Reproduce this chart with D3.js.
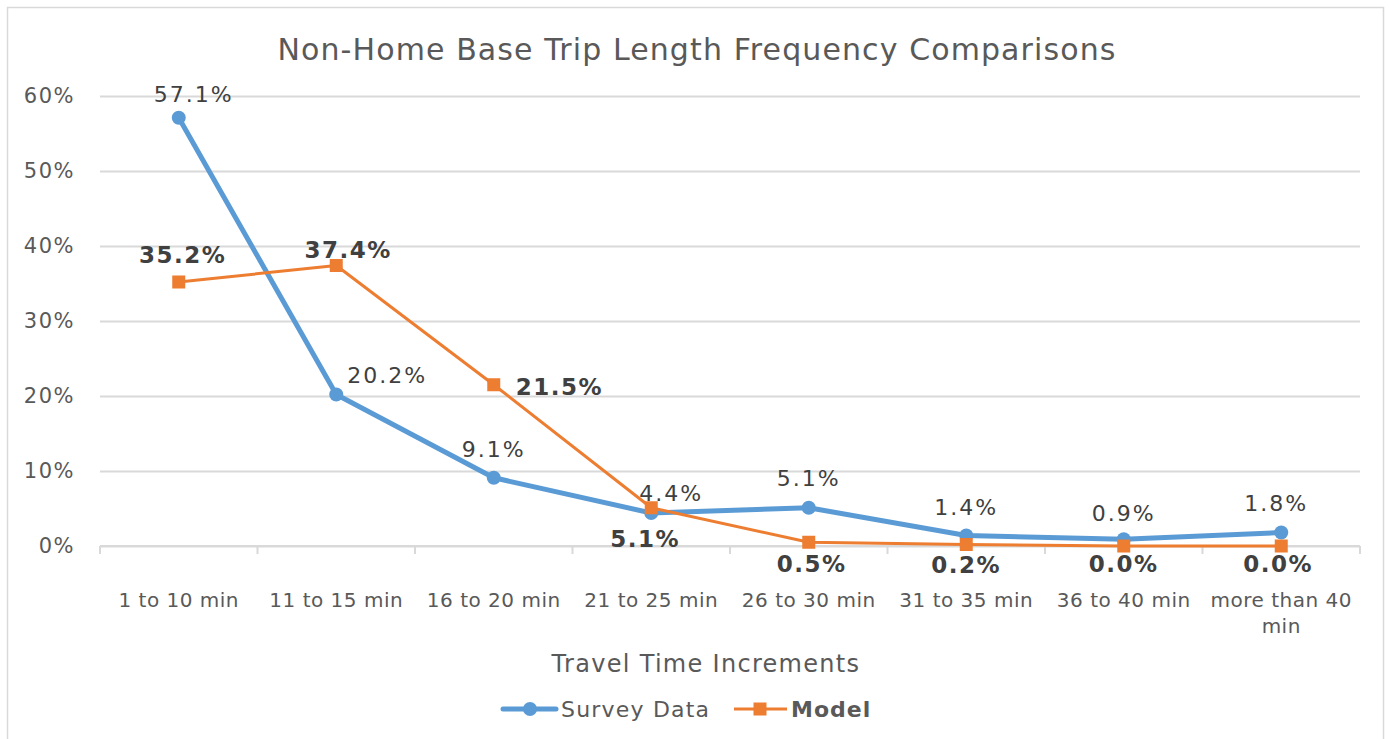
<!DOCTYPE html>
<html>
<head>
<meta charset="utf-8">
<script src="https://cdn.jsdelivr.net/npm/d3@7"></script>
<style>
  html, body { margin: 0; padding: 0; background: #ffffff; }
  svg { display: block; font-family: "DejaVu Sans", Verdana, sans-serif; }
</style>
</head>
<body>
<svg id="chart" width="1389" height="739"></svg>
<script>
// Travel time bins and trip shares (%)
const categories = ["1 to 10 min", "11 to 15 min", "16 to 20 min", "21 to 25 min",
                    "26 to 30 min", "31 to 35 min", "36 to 40 min", "more than 40 min"];
const surveyData = [57.1, 20.2, 9.1, 4.4, 5.1, 1.4, 0.9, 1.8];
const modelData  = [35.2, 37.4, 21.5, 5.1, 0.5, 0.2, 0.0, 0.0];
const yTicks = [0, 10, 20, 30, 40, 50, 60];

// Data-label placement per point: [dx, dy of baseline, anchor]
const surveyLabelPlace = [[15, -16, "middle"], [51, -12, "middle"], [0, -21, "middle"], [20, -12, "middle"],
                          [0, -22, "middle"], [0, -21, "middle"], [0, -18, "middle"], [-5, -22, "middle"]];
const modelLabelPlace  = [[4, -19, "middle"], [12, -8, "middle"], [22, 10, "start"], [-6, 39, "middle"],
                          [3, 30, "middle"], [0, 28, "middle"], [0, 26, "middle"], [-3, 26, "middle"]];

const svg = d3.select("#chart");
const plot = { left: 100, right: 1360, top: 96, bottom: 546 };

const x = d3.scaleBand().domain(categories).range([plot.left, plot.right]).padding(0);
const y = d3.scaleLinear().domain([0, 60]).range([plot.bottom, plot.top]);
const cx = c => x(c) + x.bandwidth() / 2;

const gridColor = "#d9d9d9";
const labelColor = "#404040";
const axisColor = "#595959";
const blue = "#5b9bd5";
const orange = "#ed7d31";

// Chart frame
svg.append("rect")
  .attr("x", 7.5).attr("y", 7.5).attr("width", 1376).attr("height", 760)
  .attr("fill", "#ffffff").attr("stroke", gridColor).attr("stroke-width", 1.5);

// Title
svg.append("text")
  .attr("x", 697).attr("y", 60)
  .attr("text-anchor", "middle")
  .attr("fill", axisColor)
  .style("font-size", "30px").style("letter-spacing", "1.1px")
  .text("Non-Home Base Trip Length Frequency Comparisons");

// Horizontal gridlines and y labels
const yAxis = d3.axisLeft(y).tickValues(yTicks).tickFormat(d => d + "%")
  .tickSize(-(plot.right - plot.left)).tickPadding(25);
const gy = svg.append("g").attr("transform", `translate(${plot.left},0)`).call(yAxis);
gy.select(".domain").remove();
gy.selectAll(".tick line").attr("stroke", gridColor).attr("stroke-width", 2);
gy.selectAll(".tick text")
  .attr("fill", axisColor)
  .style("font-size", "21px").style("letter-spacing", "1.5px")
  .style("font-family", "'DejaVu Sans', Verdana, sans-serif");

// Category axis: baseline, boundary ticks, labels
const gx = svg.append("g").attr("transform", `translate(0,${plot.bottom})`);
gx.append("line")
  .attr("x1", plot.left).attr("x2", plot.right)
  .attr("stroke", gridColor).attr("stroke-width", 2);
const bounds = categories.map(c => x(c)).concat([plot.right]);
gx.selectAll("line.bound").data(bounds).join("line")
  .attr("class", "bound")
  .attr("x1", d => d).attr("x2", d => d)
  .attr("y1", 0).attr("y2", 8)
  .attr("stroke", gridColor).attr("stroke-width", 2);

const catLabels = gx.selectAll("text.cat").data(categories).join("text")
  .attr("class", "cat")
  .attr("text-anchor", "middle")
  .attr("fill", axisColor)
  .style("font-size", "20px").style("letter-spacing", "0.5px");
catLabels.each(function(c) {
  const t = d3.select(this);
  const lines = c === "more than 40 min" ? ["more than 40", "min"] : [c];
  lines.forEach((ln, i) => {
    t.append("tspan").attr("x", cx(c)).attr("y", 61 + i * 26).text(ln);
  });
});

// Axis title
svg.append("text")
  .attr("x", 706).attr("y", 672)
  .attr("text-anchor", "middle")
  .attr("fill", axisColor)
  .style("font-size", "24px").style("letter-spacing", "1.3px")
  .text("Travel Time Increments");

// Series lines
const line = d3.line().x((d, i) => cx(categories[i])).y(d => y(d));

svg.append("path").datum(surveyData)
  .attr("d", line).attr("fill", "none")
  .attr("stroke", blue).attr("stroke-width", 5)
  .attr("stroke-linejoin", "round").attr("stroke-linecap", "round");

svg.append("path").datum(modelData)
  .attr("d", line).attr("fill", "none")
  .attr("stroke", orange).attr("stroke-width", 3)
  .attr("stroke-linejoin", "round");

// Markers
svg.selectAll("circle.survey").data(surveyData).join("circle")
  .attr("class", "survey")
  .attr("cx", (d, i) => cx(categories[i])).attr("cy", d => y(d))
  .attr("r", 7).attr("fill", blue);

const sq = 13;
svg.selectAll("rect.model").data(modelData).join("rect")
  .attr("class", "model")
  .attr("x", (d, i) => cx(categories[i]) - sq / 2).attr("y", d => y(d) - sq / 2)
  .attr("width", sq).attr("height", sq).attr("fill", orange);

// Data labels
svg.selectAll("text.slab").data(surveyData).join("text")
  .attr("class", "slab")
  .attr("x", (d, i) => cx(categories[i]) + surveyLabelPlace[i][0])
  .attr("y", (d, i) => y(d) + surveyLabelPlace[i][1])
  .attr("text-anchor", (d, i) => surveyLabelPlace[i][2])
  .attr("fill", labelColor)
  .style("font-size", "22px").style("letter-spacing", "2px")
  .text(d => d.toFixed(1) + "%");

svg.selectAll("text.mlab").data(modelData).join("text")
  .attr("class", "mlab")
  .attr("x", (d, i) => cx(categories[i]) + modelLabelPlace[i][0])
  .attr("y", (d, i) => y(d) + modelLabelPlace[i][1])
  .attr("text-anchor", (d, i) => modelLabelPlace[i][2])
  .attr("fill", labelColor)
  .style("font-size", "23px").style("font-weight", "bold").style("letter-spacing", "1.5px")
  .text(d => d.toFixed(1) + "%");

// Legend
const lg = svg.append("g").attr("transform", "translate(0,709)");
lg.append("line").attr("x1", 503).attr("x2", 556).attr("y1", 0).attr("y2", 0)
  .attr("stroke", blue).attr("stroke-width", 5).attr("stroke-linecap", "round");
lg.append("circle").attr("cx", 530).attr("cy", 0).attr("r", 7).attr("fill", blue);
lg.append("text").attr("x", 561).attr("y", 8)
  .attr("fill", axisColor)
  .style("font-size", "22px").style("letter-spacing", "1.2px")
  .text("Survey Data");

lg.append("line").attr("x1", 734).attr("x2", 787).attr("y1", 0).attr("y2", 0)
  .attr("stroke", orange).attr("stroke-width", 3);
lg.append("rect").attr("x", 760 - sq / 2).attr("y", -sq / 2).attr("width", sq).attr("height", sq)
  .attr("fill", orange);
lg.append("text").attr("x", 791).attr("y", 8)
  .attr("fill", axisColor)
  .style("font-size", "22px").style("font-weight", "bold").style("letter-spacing", "1px")
  .text("Model");
</script>
</body>
</html>
